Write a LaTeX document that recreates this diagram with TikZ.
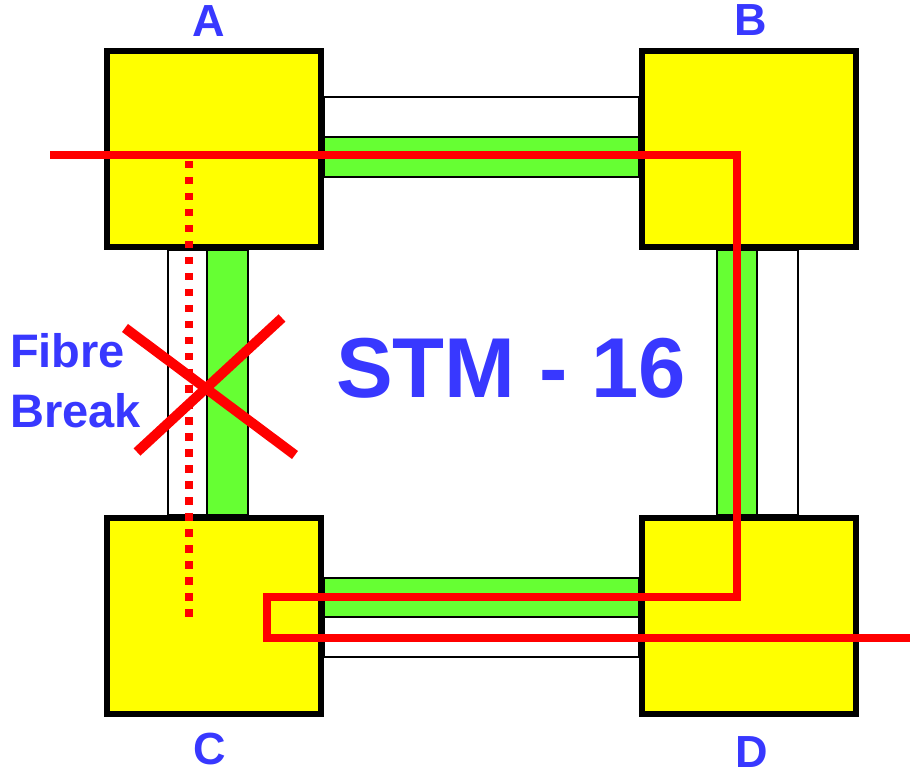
\documentclass[tikz,border=0pt]{standalone}
\usepackage{fontspec}
\setsansfont{Liberation Sans}
\usepackage{tikz}
\usetikzlibrary{calc,backgrounds}
\definecolor{siteyellow}{HTML}{FFFF00}
\definecolor{workgreen}{HTML}{66FF33}
\definecolor{faultred}{HTML}{FF0000}
\definecolor{tagblue}{HTML}{3838FF}

\begin{document}
\begin{tikzpicture}[x=1pt,y=-1pt,
every node/.style={font=\sffamily\bfseries},
site/.style={draw=black,line width=6pt,fill=siteyellow,minimum width=214pt,minimum height=196pt,inner sep=0pt},
spare/.style={draw=black,line width=1.5pt,fill=white},
work/.style={spare,fill=workgreen},
signal/.style={draw=faultred,line width=7.5pt,miter limit=2},
backup/.style={draw=faultred,line width=7.5pt,dash pattern=on 7.5pt off 8.5pt},
cross/.style={draw=faultred,line width=10pt},
tag/.style={text=tagblue,font=\sffamily\bfseries\fontsize{45}{50}\selectfont,anchor=base,inner sep=0pt}
]
\useasboundingbox (0,0) rectangle (910,775);

% ring nodes
\node[site] (A) at (214,149) {};
\node[site] (B) at (749,149) {};
\node[site] (C) at (214,616) {};
\node[site] (D) at (749,616) {};

% fibre pairs between the nodes
\begin{scope}[on background layer]
\draw[spare] ($(A.east)+(0,-52)$) rectangle ($(B.west)+(0,-12)$);
\draw[work]  ($(A.east)+(0,-12)$) rectangle ($(B.west)+(0,28)$);
\draw[work]  ($(C.east)+(0,-38)$) rectangle ($(D.west)+(0,1)$);
\draw[spare] ($(C.east)+(0,1)$)   rectangle ($(D.west)+(0,41)$);
\draw[spare] ($(A.south)+(-46,0)$) rectangle ($(C.north)+(-7,0)$);
\draw[work]  ($(A.south)+(-7,0)$)  rectangle ($(C.north)+(34,0)$);
\draw[work]  ($(B.south)+(-32,0)$) rectangle ($(D.north)+(8,0)$);
\draw[spare] ($(B.south)+(8,0)$)   rectangle ($(D.north)+(49,0)$);
\end{scope}

% labels
\node[tag] (tA) at (209,37) {A};
\node[tag] (tB) at (751,36) {B};
\node[tag] (tC) at (210,764) {C};
\node[tag] (tD) at (752,767) {D};
\node[tag,font=\sffamily\bfseries\fontsize{85}{90}\selectfont] (stm) at (511,397) {STM - 16};
\node[tag,anchor=base west,align=left,font=\sffamily\bfseries\fontsize{47}{59}\selectfont] (brk) at (10,427) {Fibre\\Break};

% traffic path
\coordinate (in)  at (50,155);
\coordinate (out) at (910,638);
\coordinate (turnB) at (737,597);
\coordinate (turnC) at (267,638);
\draw[signal] (in) -| (turnB) -| (turnC) -- (out);

% broken route
\coordinate (cutA) at (189,161);
\coordinate (cutC) at (189,617);
\draw[backup] (cutA) -- (cutC);

% fibre break mark
\coordinate (x1) at (125,328);
\coordinate (x2) at (295,455);
\coordinate (x3) at (282,318);
\coordinate (x4) at (137,452);
\draw[cross] (x1) -- (x2);
\draw[cross] (x3) -- (x4);
\end{tikzpicture}
\end{document}
